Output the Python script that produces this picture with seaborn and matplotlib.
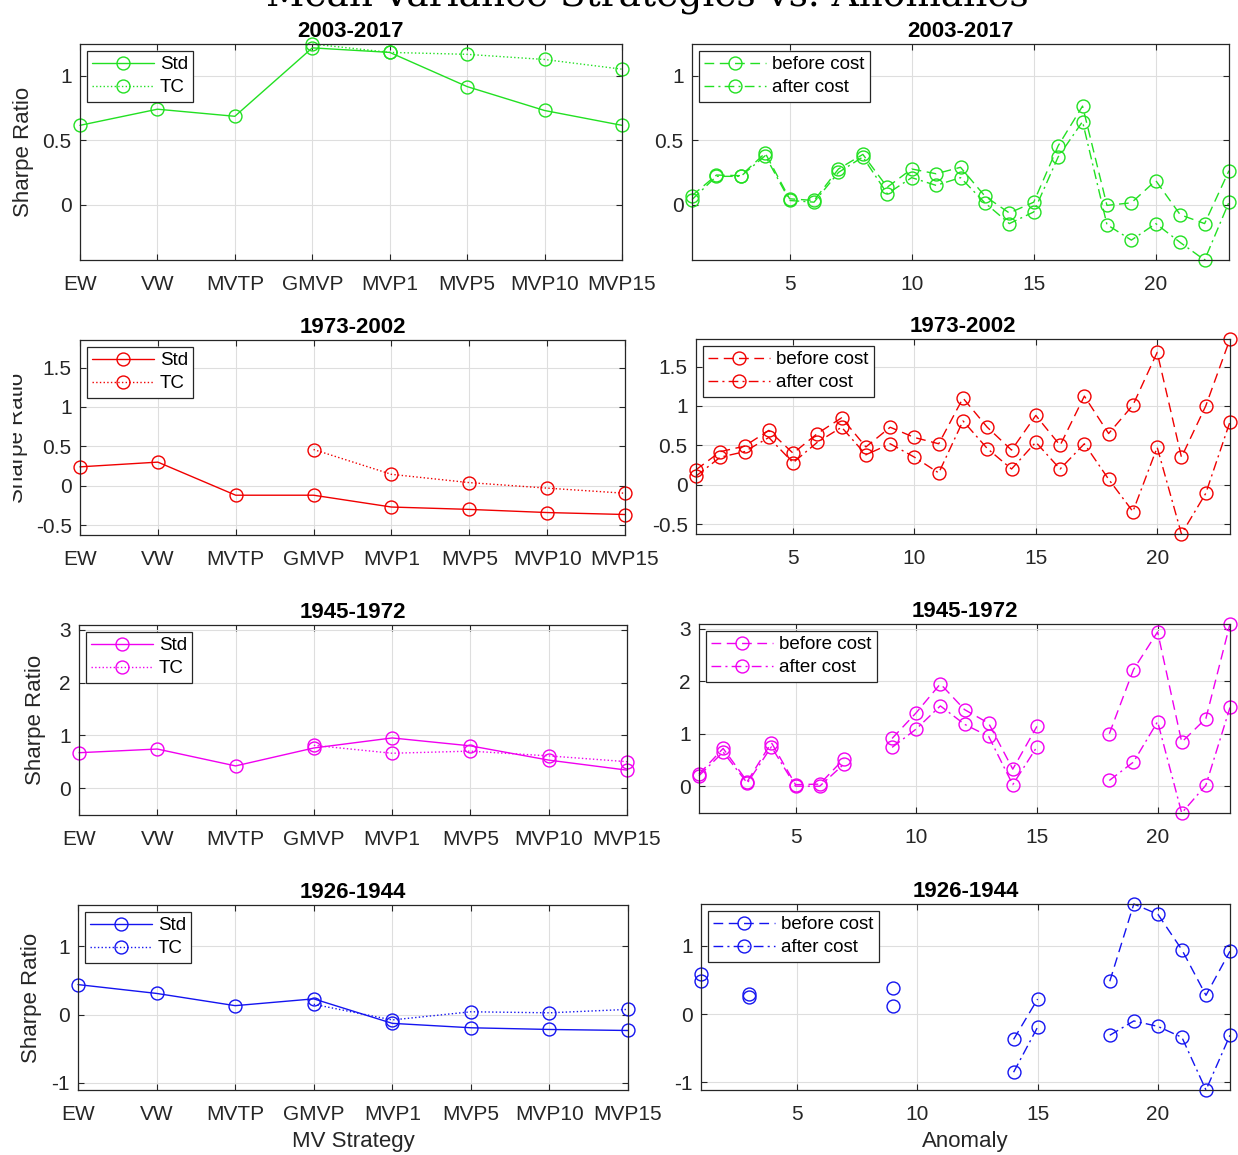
import numpy as np
import pandas as pd
import matplotlib
matplotlib.use("Agg")
import matplotlib.pyplot as plt
import seaborn as sns
from matplotlib.lines import Line2D
from matplotlib.transforms import Bbox, TransformedBbox

nan = np.nan

# ---------------- data ----------------
main_title = "Mean-Variance Strategies vs. Anomalies"
periods = ["2003-2017", "1973-2002", "1945-1972", "1926-1944"]
strategies = ["EW", "VW", "MVTP", "GMVP", "MVP1", "MVP5", "MVP10", "MVP15"]
anomalies = list(range(1, 24))
left_legend = ["Std", "TC"]
right_legend = ["before cost", "after cost"]
row_colors = ["#22e022", "#f00000", "#f000f0", "#1414f0"]

std_2003 = [0.615, 0.74, 0.685, 1.215, 1.18, 0.915, 0.73, 0.615]
tc_2003 = [nan, nan, nan, 1.245, 1.18, 1.165, 1.125, 1.05]
std_1973 = [0.24, 0.30, -0.12, -0.12, -0.27, -0.30, -0.34, -0.365]
tc_1973 = [nan, nan, nan, 0.46, 0.145, 0.04, -0.03, -0.095]
std_1945 = [0.67, 0.74, 0.42, 0.76, 0.95, 0.80, 0.53, 0.34]
tc_1945 = [nan, nan, nan, 0.81, 0.66, 0.70, 0.61, 0.50]
std_1926 = [0.44, 0.31, 0.13, 0.23, -0.13, -0.195, -0.22, -0.235]
tc_1926 = [nan, nan, nan, 0.15, -0.08, 0.04, 0.025, 0.075]

before_2003 = [0.07, 0.23, 0.225, 0.40, 0.046, 0.033, 0.277, 0.39, 0.136, 0.277, 0.24, 0.29,
               0.067, -0.064, 0.02, 0.456, 0.764, -0.005, 0.015, 0.187, -0.077, -0.146, 0.264]
after_2003 = [0.04, 0.22, 0.22, 0.38, 0.033, 0.02, 0.25, 0.37, 0.085, 0.21, 0.15, 0.21,
              0.015, -0.146, -0.056, 0.37, 0.644, -0.154, -0.274, -0.146, -0.292, -0.428, 0.02]
before_1973 = [0.19, 0.42, 0.49, 0.69, 0.40, 0.65, 0.85, 0.48, 0.73, 0.60, 0.52, 1.10,
               0.73, 0.44, 0.88, 0.50, 1.125, 0.65, 1.01, 1.68, 0.35, 1.0, 1.85]
after_1973 = [0.11, 0.35, 0.42, 0.60, 0.28, 0.54, 0.73, 0.38, 0.52, 0.35, 0.15, 0.81,
              0.46, 0.20, 0.54, 0.20, 0.52, 0.07, -0.34, 0.475, -0.625, -0.11, 0.80]
before_1945 = [0.23, 0.72, 0.09, 0.83, 0.03, 0.04, 0.52, nan, 0.91, 1.40, 1.95, 1.46,
               1.20, 0.325, 1.14, nan, nan, 1.0, 2.22, 2.94, 0.84, 1.29, 3.09]
after_1945 = [0.20, 0.65, 0.06, 0.75, 0.0, 0.0, 0.42, nan, 0.74, 1.09, 1.53, 1.18,
              0.95, 0.03, 0.75, nan, nan, 0.11, 0.46, 1.23, -0.51, 0.02, 1.50]
before_1926 = [0.58, nan, 0.30, nan, nan, nan, nan, nan, 0.38, nan, nan, nan,
               nan, -0.37, 0.22, nan, nan, 0.48, 1.61, 1.46, 0.94, 0.275, 0.92]
after_1926 = [0.49, nan, 0.25, nan, nan, nan, nan, nan, 0.12, nan, nan, nan,
              nan, -0.85, -0.19, nan, nan, -0.31, -0.10, -0.18, -0.34, -1.11, -0.31]

left_series = [(std_2003, tc_2003), (std_1973, tc_1973), (std_1945, tc_1945), (std_1926, tc_1926)]
right_series = [(before_2003, after_2003), (before_1973, after_1973),
                (before_1945, after_1945), (before_1926, after_1926)]
row_yticks = [[0, 0.5, 1], [-0.5, 0, 0.5, 1, 1.5], [0, 1, 2, 3], [-1, 0, 1]]
right_xticks = [5, 10, 15, 20]

# ---------------- style ----------------
sns.set_style("white")
plt.rcParams["font.family"] = ["Liberation Sans", "DejaVu Sans"]
AX_C = "#262626"

W, H = 1238, 1155
fig = plt.figure(figsize=(W / 100, H / 100), dpi=100)

# pixel boxes (left, top, right, bottom)
left_boxes = [(80, 44, 622, 260), (80, 340, 625, 535), (79, 625, 627, 815), (78, 905, 628, 1090)]
right_boxes = [(692, 44, 1229, 260), (696, 339, 1230, 534), (699, 624, 1230, 813), (701, 904, 1230, 1090)]
ylabel_x = [23, 18, 36, 31]

ls_left = ["-", ":"]
ls_right = [(0, (7, 4)), (0, (7, 3, 1.5, 3))]


def to_rect(b):
    l, t, r, bt = b
    return [l / W, 1 - bt / H, (r - l) / W, (bt - t) / H]


def segdf(x, y):
    df = pd.DataFrame({"x": x, "y": y})
    df["seg"] = df["y"].isna().cumsum()
    return df.dropna()


def draw(ax, x, y, color, ls):
    df = segdf(x, y)
    sns.lineplot(data=df, x="x", y="y", units="seg", estimator=None, sort=False, ax=ax,
                 color=color, linestyle=ls, linewidth=1.0, marker="o", markersize=9.3,
                 markerfacecolor="none", markeredgecolor=color, markeredgewidth=1.0,
                 clip_on=False, legend=False)


def style_axes(ax, yticks):
    ax.set_axisbelow(True)
    ax.grid(True, color="#dedede", linewidth=0.8)
    for s in ax.spines.values():
        s.set_color(AX_C)
        s.set_linewidth(0.9)
    ax.tick_params(direction="in", length=4, width=0.8, color=AX_C, labelcolor=AX_C,
                   labelsize=15, top=True, right=True, left=True, bottom=True)
    ax.tick_params(axis="x", pad=10.5)
    ax.tick_params(axis="y", pad=6)
    ax.set_yticks(yticks)
    ax.set_yticklabels([f"{v:g}" for v in yticks])
    ax.set_xlabel("")
    ax.set_ylabel("")


def add_legend(ax, labels, styles, color):
    handles = [Line2D([], [], color=color, linestyle=s, linewidth=1.0, marker="o", markersize=9.3,
                      markerfacecolor="none", markeredgecolor=color, markeredgewidth=1.0)
               for s in styles]
    leg = ax.legend(handles, labels, loc="upper left", fontsize=13.5, frameon=True,
                    fancybox=False, framealpha=1, edgecolor=AX_C, borderpad=0.3,
                    labelspacing=0.3, handlelength=3.3, handletextpad=0.3,
                    borderaxespad=0.35, numpoints=1)
    leg.get_frame().set_linewidth(0.9)
    leg.set_zorder(10)
    for t in leg.get_texts():
        t.set_color("black")


xs_left = list(range(1, len(strategies) + 1))

for i in range(4):
    color = row_colors[i]
    allvals = np.array(left_series[i][0] + left_series[i][1] + right_series[i][0] + right_series[i][1])
    ylim = (np.nanmin(allvals), np.nanmax(allvals))

    axl = fig.add_axes(to_rect(left_boxes[i]))
    for vals, ls in zip(left_series[i], ls_left):
        draw(axl, xs_left, vals, color, ls)
    style_axes(axl, row_yticks[i])
    axl.set_xlim(1, len(strategies))
    axl.set_ylim(*ylim)
    axl.set_xticks(xs_left)
    axl.set_xticklabels(strategies)
    axl.set_title(periods[i], fontsize=16, fontweight="bold", pad=5, color="black")
    add_legend(axl, left_legend, ls_left, color)
    axl.set_ylabel("Sharpe Ratio", fontsize=16, color=AX_C)
    lab = axl.yaxis.label
    lab.set_va("center")
    l, t, r, b = left_boxes[i]
    axl.yaxis.set_label_coords((ylabel_x[i] - l) / (r - l), 0.5)
    if i == 1:
        clip = TransformedBbox(Bbox([[13 / W, 0], [1, 1]]), fig.transFigure)
        lab.set_clip_box(clip)
        lab.set_clip_on(True)

    axr = fig.add_axes(to_rect(right_boxes[i]))
    for vals, ls in zip(right_series[i], ls_right):
        draw(axr, anomalies, vals, color, ls)
    style_axes(axr, row_yticks[i])
    axr.set_xlim(anomalies[0], anomalies[-1])
    axr.set_ylim(*ylim)
    axr.set_xticks(right_xticks)
    axr.set_xticklabels([str(v) for v in right_xticks])
    axr.set_title(periods[i], fontsize=16, fontweight="bold", pad=5, color="black")
    add_legend(axr, right_legend, ls_right, color)

    if i == 3:
        for ax, txt, box in ((axl, "MV Strategy", left_boxes[i]), (axr, "Anomaly", right_boxes[i])):
            ax.set_xlabel(txt, fontsize=16, color=AX_C)
            ax.xaxis.label.set_va("center")
            l, t, r, b = box
            ax.xaxis.set_label_coords(0.5, -(1142 - b) / (b - t))

fig.text(647 / W, 1 - 6 / H, main_title, fontfamily="DejaVu Serif", fontsize=27,
         ha="center", va="baseline", color="black")

fig.savefig("out.png", dpi=100, facecolor="white")
